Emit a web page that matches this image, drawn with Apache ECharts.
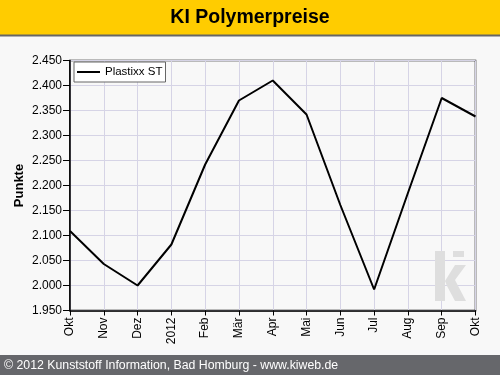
<!DOCTYPE html>
<html><head><meta charset="utf-8">
<script src="https://cdn.jsdelivr.net/npm/echarts@6/dist/echarts.min.js"></script>
<style>html,body{margin:0;padding:0;background:#f8f8f8;}#c{width:500px;height:375px;}</style>
</head><body><div id="c"></div>
<script>
const categories = ['Okt','Nov','Dez','2012','Feb','Mär','Apr','Mai','Jun','Jul','Aug','Sep','Okt'];
const plastixxST = [2.109, 2.043, 2.000, 2.082, 2.242, 2.370, 2.410, 2.342, 2.161, 1.992, 2.185, 2.375, 2.338];
const yMin = 1.95, yMax = 2.45, yStep = 0.05;
const titleText = 'KI Polymerpreise';
const footerText = '© 2012 Kunststoff Information, Bad Homburg - www.kiweb.de';
const seriesName = 'Plastixx ST';
const yAxisName = 'Punkte';

const FONT = '"Liberation Sans", Arial, sans-serif';
const chart = echarts.init(document.getElementById('c'), null, {renderer:'canvas'});
chart.setOption({
  backgroundColor: '#f8f8f8',
  animation: false,
  graphic: [
    {type:'rect', shape:{x:0,y:0,width:500,height:35}, style:{fill:'#ffcc00'}, z:0},
    {type:'rect', shape:{x:0,y:34.5,width:500,height:2}, style:{fill:'#666666'}, z:0},
    {type:'text', x:250, y:18, style:{text:titleText, font:'bold 19.5px '+FONT, fill:'#000', textAlign:'center', textVerticalAlign:'middle'}},
    {type:'rect', shape:{x:0,y:355,width:500,height:20}, style:{fill:'#66676b'}, z:0},
    {type:'text', x:4, y:365.5, style:{text:footerText, font:'12.3px '+FONT, fill:'#fff', textVerticalAlign:'middle'}},
    // watermark "ki"
    {type:'rect', shape:{x:435,y:251,width:10,height:50}, style:{fill:'#dedede'}, z:1},
    {type:'rect', shape:{x:453,y:251,width:11,height:6}, style:{fill:'#dedede'}, z:1},
    {type:'polygon', shape:{points:[[445,281],[455,265],[466,265],[455,280],[466,301],[455,301],[447,286]]}, style:{fill:'#dedede'}, z:1}
  ],
  legend: {
    left: 74, top: 62, orient:'vertical',
    backgroundColor:'#ffffff', borderColor:'#666', borderWidth:1, borderRadius:0,
    padding:[4,3,4,3], itemWidth:23, itemHeight:10, itemGap:4,
    textStyle:{fontFamily:FONT, fontSize:11.5, color:'#000'},
    data:[{name:seriesName, icon:'path://M0,0L23,0L23,2L0,2Z'}]
  },
  grid: {left:70, right:24.5, top:60.5, bottom:64.5, show:true, borderColor:'#000', borderWidth:1.5, backgroundColor:'transparent'},
  xAxis: {
    type:'category', data:categories, boundaryGap:false,
    axisLine:{lineStyle:{color:'#000', width:1.5}},
    axisTick:{show:true, length:5, lineStyle:{color:'#000'}},
    axisLabel:{rotate:90, fontFamily:FONT, fontSize:12, color:'#000', margin:7, interval:0},
    splitLine:{show:true, lineStyle:{color:'#d6d4e6', width:1}}
  },
  yAxis: {
    type:'value', min:yMin, max:yMax, interval:yStep,
    name:yAxisName, nameLocation:'middle', nameGap:44, nameRotate:90, nameMoveOverlap:false,
    nameTextStyle:{fontFamily:FONT, fontSize:13, fontWeight:'bold', color:'#000'},
    axisLine:{show:true, lineStyle:{color:'#000', width:1.5}},
    axisTick:{show:true, length:7, lineStyle:{color:'#000'}},
    axisLabel:{fontFamily:FONT, fontSize:12, color:'#000', margin:8, formatter:v=>v.toFixed(3)},
    splitLine:{show:true, lineStyle:{color:'#d6d4e6', width:1}}
  },
  series: [{
    name:seriesName, type:'line', data:plastixxST, symbol:'none',
    lineStyle:{color:'#000', width:2}, itemStyle:{color:'#000'}, z:5
  }]
});
</script></body></html>
